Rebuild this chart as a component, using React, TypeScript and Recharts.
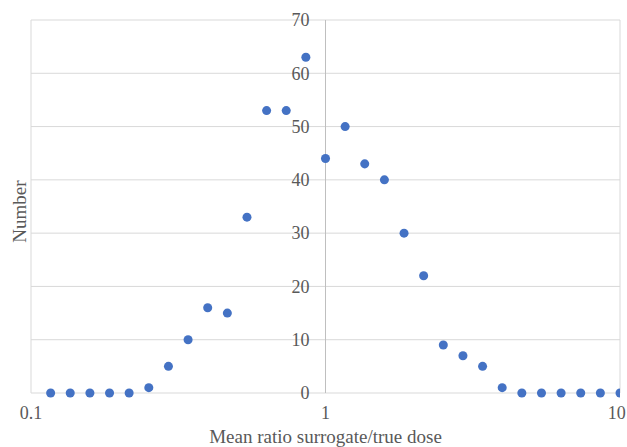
import React from 'react';
import {
  ScatterChart,
  Scatter,
  XAxis,
  YAxis,
  ZAxis,
  CartesianGrid,
  ReferenceLine,
} from 'recharts';

// Bin centres (mean ratio surrogate / true dose)
const ratios: number[] = [
  0.1166, 0.1359, 0.1585, 0.1848, 0.2154, 0.2512, 0.2929, 0.3415, 0.3981, 0.4642,
  0.5412, 0.631, 0.7356, 0.8577, 1, 1.166, 1.359, 1.585, 1.848, 2.154,
  2.512, 2.929, 3.415, 3.981, 4.642, 5.412, 6.31, 7.356, 8.577, 10,
];
// Number of cases in each bin
const counts: number[] = [
  0, 0, 0, 0, 0, 1, 5, 10, 16, 15,
  33, 53, 53, 63, 44, 50, 43, 40, 30, 22,
  9, 7, 5, 1, 0, 0, 0, 0, 0, 0,
];
const xTicks: number[] = [0.1, 1, 10];
const yTicks: number[] = [0, 10, 20, 30, 40, 50, 60, 70];
const xDomain: [number, number] = [0.1, 10];
const yDomain: [number, number] = [0, 70];
const yAxisCross = 1;
const xTitle = 'Mean ratio surrogate/true dose';
const yTitle = 'Number';

const data = ratios.map((r, i) => ({ ratio: r, count: counts[i] }));

const CHART_W = 627;
const CHART_H = 447;
const MARGIN = { top: 20, right: 7, bottom: 0, left: 0 };
const Y_AXIS_W = 31;
const X_AXIS_H = 54;
const FONT = '"Liberation Serif", "Times New Roman", serif';
const TEXT_COLOR = '#595959';

const plotLeft = MARGIN.left + Y_AXIS_W;
const plotWidth = CHART_W - plotLeft - MARGIN.right;
const crossX =
  plotLeft +
  (plotWidth * (Math.log10(yAxisCross) - Math.log10(xDomain[0]))) /
    (Math.log10(xDomain[1]) - Math.log10(xDomain[0]));

const YTick = (props: any) => {
  const { y, payload } = props;
  return (
    <text
      x={crossX - 16}
      y={y}
      dy="0.35em"
      textAnchor="end"
      fill={TEXT_COLOR}
      fontSize={18}
      fontFamily={FONT}
    >
      {payload.value}
    </text>
  );
};

const XTick = (props: any) => {
  const { x, y, payload } = props;
  const label = String(payload.value);
  const halfW = label.length * 4.6;
  const cx = Math.min(x, CHART_W - 1 - halfW);
  return (
    <text
      x={cx}
      y={y}
      dy="0.71em"
      textAnchor="middle"
      fill={TEXT_COLOR}
      fontSize={18}
      fontFamily={FONT}
    >
      {label}
    </text>
  );
};

const YLabel = (props: any) => {
  const vb = props.viewBox || {};
  const cx = (vb.x ?? 0) + 19;
  const cy = (vb.y ?? 0) + (vb.height ?? 0) / 2 + 5;
  return (
    <text
      x={cx}
      y={cy}
      transform={`rotate(-90, ${cx}, ${cy})`}
      textAnchor="middle"
      dominantBaseline="central"
      fill={TEXT_COLOR}
      fontSize={19}
      fontFamily={FONT}
    >
      {yTitle}
    </text>
  );
};

export default function App() {
  return (
    <div style={{ position: 'absolute', left: 0, top: 0, fontFamily: FONT }}>
      <ScatterChart width={CHART_W} height={CHART_H} margin={MARGIN}>
        <CartesianGrid stroke="#d9d9d9" strokeWidth={1} />
        <XAxis
          type="number"
          dataKey="ratio"
          scale="log"
          domain={xDomain}
          ticks={xTicks}
          interval={0}
          allowDataOverflow
          height={X_AXIS_H}
          axisLine={false}
          tickLine={false}
          tickSize={0}
          tickMargin={13}
          tick={<XTick />}
          label={{
            value: xTitle,
            position: 'insideBottom',
            offset: 4,
            fill: TEXT_COLOR,
            fontSize: 19,
            fontFamily: FONT,
          }}
        />
        <YAxis
          type="number"
          dataKey="count"
          domain={yDomain}
          ticks={yTicks}
          interval={0}
          width={Y_AXIS_W}
          axisLine={false}
          tickLine={false}
          tick={<YTick />}
          label={<YLabel />}
        />
        <ZAxis range={[21, 21]} />
        <ReferenceLine x={yAxisCross} stroke="#bfbfbf" strokeWidth={1} />
        <Scatter data={data} fill="#4472C4" isAnimationActive={false} />
      </ScatterChart>
    </div>
  );
}
